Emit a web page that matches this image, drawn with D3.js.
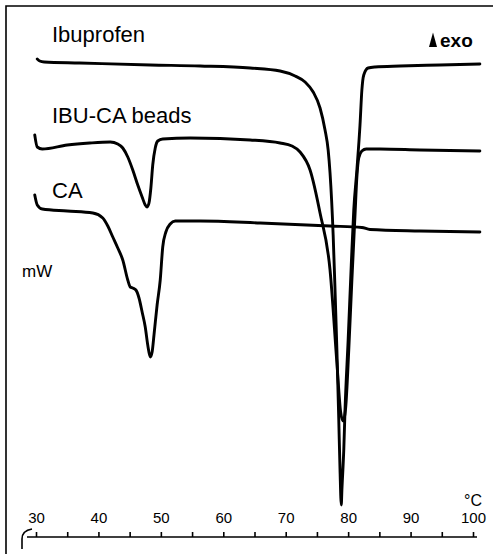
<!DOCTYPE html>
<html>
<head>
<meta charset="utf-8">
<script src="https://cdn.jsdelivr.net/npm/d3@7"></script>
<style>
  html, body { margin: 0; padding: 0; background: #fff; }
  svg { display: block; }
  text { font-family: "Liberation Sans", Arial, sans-serif; fill: #000; }
</style>
</head>
<body>
<script>
// DSC thermograms: heat flow (arbitrary mW units, endotherm down) vs temperature (°C)
const ibuT  = [30.2, 30.6, 31.3, 37.0, 48.3, 56.3, 64.3, 69.1, 71.5, 73.1, 74.4, 75.5, 76.3, 76.8, 77.1, 77.6, 77.9, 78.2, 78.5, 78.7, 78.9, 79.0, 79.3, 79.5, 80.0, 80.5, 80.9, 81.4, 81.9, 82.2, 82.5, 83.2, 84.3, 88.3, 94.7, 101.1];
const ibuHF = [-3.8, -4.2, -4.4, -4.6, -5.0, -5.2, -5.6, -6.2, -7.2, -8.4, -10.4, -13.6, -18, -22, -26.6, -39, -50, -62, -76, -86, -93, -90, -82, -74, -60, -45, -34, -26, -17, -10, -7, -5.6, -5.4, -5.2, -5.0, -4.8];

const beadT  = [29.8, 30.2, 31.0, 35.0, 38.6, 41.9, 43.1, 43.9, 44.7, 45.5, 46.3, 47.0, 47.5, 47.8, 48.1, 48.4, 48.7, 49.1, 49.5, 50.3, 54.7, 64.3, 69.1, 71.0, 72.3, 73.9, 75.5, 77.1, 78.2, 78.8, 79.2, 79.6, 80.1, 80.6, 81.1, 81.4, 81.7, 82.2, 82.9, 85.1, 91.5, 101.1];
const beadHF = [-19, -21.4, -21.8, -21, -20.6, -20.4, -20.8, -21.6, -23.4, -26, -29, -31.4, -33, -33.4, -32.6, -29.6, -25, -21.6, -20.2, -19.8, -19.6, -20, -20.6, -21.2, -22.4, -26, -34.6, -46, -64.6, -74.4, -76.2, -73.6, -62, -48, -35, -27.4, -23.6, -22.2, -21.8, -21.8, -22, -22.2];

const caT  = [29.8, 30.2, 31.0, 35.0, 39.1, 40.7, 41.5, 42.3, 43.1, 43.9, 44.7, 45.1, 45.5, 46.0, 46.5, 47.0, 47.5, 47.9, 48.3, 48.6, 48.9, 49.4, 49.9, 50.3, 50.8, 51.5, 52.3, 56.3, 65.9, 77.1, 82.2, 83.5, 91.5, 101.1];
const caHF = [-31, -33, -33.8, -34.2, -34.6, -35.6, -37.2, -39.4, -41.6, -44, -48, -49.4, -49.6, -50, -51.6, -54.4, -57.4, -61, -63.4, -62.4, -59, -53, -48, -41.4, -38.4, -36.8, -36.2, -36.2, -36.6, -37.2, -37.5, -37.9, -38.2, -38.4];

const seriesNames = ["Ibuprofen", "IBU-CA beads", "CA"];
const tickTemps = [30, 35, 40, 45, 50, 55, 60, 65, 70, 75, 80, 85, 90, 95, 100];
const tempUnit = "°C";
const yUnit = "mW";
const exoLabel = "exo";

const W = 493, H = 554;
const svg = d3.select("body").append("svg").attr("width", W).attr("height", H);

const x = d3.scaleLinear().domain([30, 100]).range([36, 473]);
const y = d3.scaleLinear().domain([0, -100]).range([40, 540]);
const axisY = 537;

// frame (left and top edges)
svg.append("path")
  .attr("d", `M6,${H} L6,6 L${W},6`)
  .attr("fill", "none").attr("stroke", "#000").attr("stroke-width", 1.6);

// curves
const line = d3.line().x(d => x(d[0])).y(d => y(d[1])).curve(d3.curveMonotoneX);
const series = [
  d3.zip(ibuT, ibuHF),
  d3.zip(beadT, beadHF),
  d3.zip(caT, caHF)
];
svg.append("g").selectAll("path").data(series).join("path")
  .attr("d", line)
  .attr("fill", "none")
  .attr("stroke", "#000")
  .attr("stroke-width", 2.9)
  .attr("stroke-linejoin", "round")
  .attr("stroke-linecap", "round");

// series labels
const labelPos = [[52, 42], [52, 123], [52, 198]];
svg.append("g").selectAll("text").data(seriesNames).join("text")
  .attr("x", (d, i) => labelPos[i][0])
  .attr("y", (d, i) => labelPos[i][1])
  .attr("font-size", 22)
  .text(d => d);

// y unit
svg.append("text").attr("x", 22).attr("y", 277).attr("font-size", 17).text(yUnit);

// exo marker
const exo = svg.append("g").attr("transform", "translate(429,47)");
exo.append("path").attr("d", "M0,0 L4,-14.5 L8,0 Z").attr("fill", "#000");
exo.append("text").attr("x", 11).attr("y", 0).attr("font-size", 19).attr("font-weight", "bold").text(exoLabel);

// temperature axis: ticks point up, labels above the line
const axis = d3.axisTop(x)
  .tickValues(tickTemps)
  .tickFormat(d => d % 10 === 0 ? d : "")
  .tickSizeInner(5)
  .tickSizeOuter(0)
  .tickPadding(9);
const gAxis = svg.append("g").attr("transform", `translate(0,${axisY})`).call(axis);
gAxis.select(".domain").remove();
gAxis.selectAll(".tick line").attr("stroke", "#000").attr("stroke-width", 1.6);
gAxis.selectAll(".tick text")
  .attr("font-family", "Liberation Sans, Arial, sans-serif")
  .attr("font-size", 15).attr("fill", "#000");

// axis base line with the hooked start
const x0 = x(30), x1 = x(100);
svg.append("path")
  .attr("d", `M${x0 - 14},${axisY + 12} L${x0 - 14},${axisY + 2} C${x0 - 14},${axisY - 4} ${x0 - 10},${axisY - 7} ${x0 - 4},${axisY - 8} M${x0 - 9},${axisY} L${x1 + 4},${axisY}`)
  .attr("fill", "none").attr("stroke", "#000").attr("stroke-width", 1.6);

// unit label
svg.append("text").attr("x", x1 + 9).attr("y", 506).attr("text-anchor", "end")
  .attr("font-size", 16).text(tempUnit);
</script>
</body>
</html>
